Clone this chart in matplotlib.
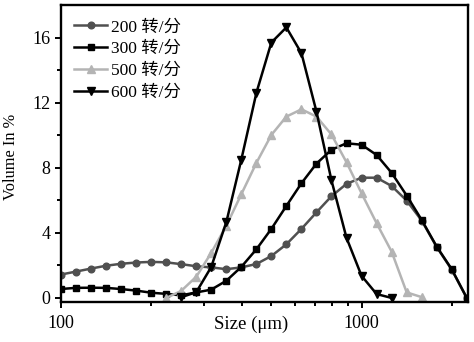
import matplotlib
matplotlib.use("Agg")
import matplotlib.pyplot as plt
from matplotlib.ticker import FixedLocator, NullFormatter, FixedFormatter

plt.rcParams['font.family'] = ['Liberation Serif', 'Noto Sans CJK SC', 'DejaVu Sans']
plt.rcParams['mathtext.fontset'] = 'stix'

# particle size bins (µm)
size = [100, 112, 126, 141, 158, 178, 200, 224, 251, 282, 316, 355, 398, 447,
        501, 562, 631, 708, 794, 891, 1000, 1122, 1259, 1413, 1585, 1778, 1995, 2239]

vol_200 = [1.44, 1.62, 1.81, 1.98, 2.10, 2.18, 2.22, 2.19, 2.08, 1.95, 1.88, 1.77,
           1.88, 2.09, 2.58, 3.30, 4.25, 5.27, 6.26, 7.02, 7.40, 7.40, 6.89, 5.99,
           4.76, 3.14, 1.74, 0.0]
vol_300 = [0.55, 0.62, 0.63, 0.62, 0.55, 0.45, 0.32, 0.25, 0.16, 0.34, 0.51, 1.06,
           1.91, 3.00, 4.25, 5.66, 7.06, 8.27, 9.12, 9.52, 9.43, 8.80, 7.70, 6.30,
           4.80, 3.16, 1.77, 0.0]
size_500 = size[7:25]
vol_500 = [0.0, 0.43, 1.31, 2.77, 4.45, 6.38, 8.32, 10.03, 11.16, 11.61, 11.16,
           10.06, 8.35, 6.44, 4.60, 2.85, 0.34, 0.05]
size_600 = size[8:23]
vol_600 = [0.04, 0.36, 1.90, 4.68, 8.51, 12.64, 15.72, 16.65, 15.06, 11.46, 7.24,
           3.70, 1.36, 0.24, 0.0]

labels = ['200 转/分', '300 转/分', '500 转/分', '600 转/分']

fig = plt.figure(figsize=(4.74, 3.42), dpi=100)
ax = fig.add_axes([61/474, 40/342, 407/474, 297/342])

lw = 1.8
ms = 4.8
ax.plot(size, vol_200, color='#505050', marker='o', ms=ms, lw=lw, label=labels[0])
ax.plot(size, vol_300, color='#000000', marker='s', ms=ms - 0.4, lw=lw, label=labels[1])
ax.plot(size_500, vol_500, color='#b4b4b4', marker='^', ms=ms + 0.4, lw=lw, label=labels[2])
ax.plot(size_600, vol_600, color='#000000', marker='v', ms=ms + 0.4, lw=lw, label=labels[3])

ax.set_xscale('log')
ax.set_xlim(100, 2260)
ax.set_ylim(-0.25, 18.03)

ax.xaxis.set_major_locator(FixedLocator([100, 1000]))
ax.xaxis.set_major_formatter(FixedFormatter(['100', '1000']))
ax.xaxis.set_minor_locator(FixedLocator([200, 300, 400, 500, 600, 700, 800, 900, 2000]))
ax.xaxis.set_minor_formatter(NullFormatter())
ax.yaxis.set_major_locator(FixedLocator([0, 4, 8, 12, 16]))
ax.yaxis.set_minor_locator(FixedLocator([2, 6, 10, 14]))

ax.tick_params(which='both', direction='out', top=False, right=False, width=1.4,
               labelsize=13)
ax.tick_params(axis='x', which='both', pad=5)
ax.tick_params(axis='y', which='both', pad=3)
ax.tick_params(which='major', length=4.5)
ax.tick_params(which='minor', length=3)
for s in ax.spines.values():
    s.set_linewidth(1.7)

ax.set_xlabel('Size (μm)', fontsize=13.5)
ax.xaxis.set_label_coords(0.467, -0.045)
ax.set_ylabel('Volume In %', fontsize=11.8)
ax.yaxis.set_label_coords(-0.103, 0.49)

leg = ax.legend(loc='upper left', frameon=False, fontsize=12.5, handlelength=1.9,
                handletextpad=0.25, labelspacing=0.32, borderaxespad=0.0,
                bbox_to_anchor=(0.015, 0.975))

fig.savefig('out.png', dpi=100)
